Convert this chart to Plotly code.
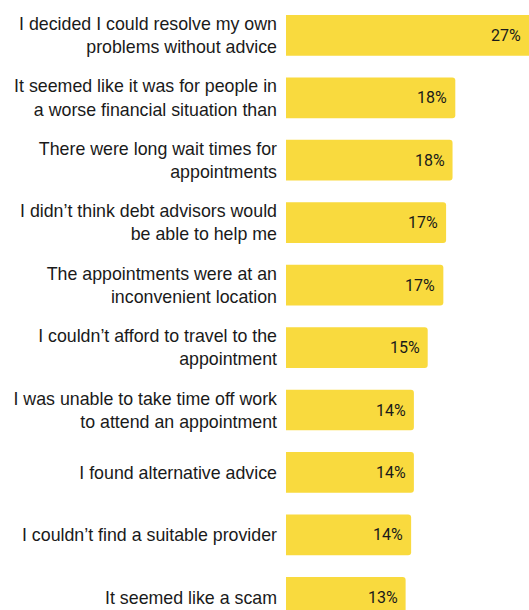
import plotly.graph_objects as go

# Reasons given for not seeking debt advice (share of respondents, %)
reasons = [
    "I decided I could resolve my own<br>problems without advice",
    "It seemed like it was for people in<br>a worse financial situation than",
    "There were long wait times for<br>appointments",
    "I didn’t think debt advisors would<br>be able to help me",
    "The appointments were at an<br>inconvenient location",
    "I couldn’t afford to travel to the<br>appointment",
    "I was unable to take time off work<br>to attend an appointment",
    "I found alternative advice",
    "I couldn’t find a suitable provider",
    "It seemed like a scam",
]
shares = [26.8, 18.4, 18.1, 17.4, 17.1, 15.4, 13.9, 13.9, 13.6, 13.0]

BAR_COLOR = "#F9DA3E"
X_MAX = 26.41

fig = go.Figure(
    go.Bar(
        x=shares,
        y=reasons,
        orientation="h",
        marker=dict(color=BAR_COLOR, line=dict(width=0), cornerradius=3),
        hoverinfo="skip",
    )
)

# value labels sit just inside the end of each bar
for v, r in zip(shares, reasons):
    fig.add_annotation(
        x=min(v, X_MAX),
        y=r,
        text=f"{v:.0f}%",
        xanchor="right",
        yanchor="middle",
        xshift=-6,
        showarrow=False,
        font=dict(family="Roboto", size=16, color="#1a1a1a"),
    )

fig.update_layout(
    width=529,
    height=610,
    margin=dict(l=286, r=0, t=0, b=0),
    paper_bgcolor="white",
    plot_bgcolor="white",
    bargap=0.348,
    showlegend=False,
    xaxis=dict(
        range=[0, X_MAX],
        visible=False,
        fixedrange=True,
    ),
    yaxis=dict(
        type="category",
        range=[9.203, -0.566],
        showgrid=False,
        zeroline=False,
        showline=False,
        ticks="",
        ticklabelstandoff=8,
        tickfont=dict(family="Liberation Sans, Arial, sans-serif", size=17.8, color="#1a1a1a"),
        fixedrange=True,
    ),
)

fig.write_html("out.html", config={"displayModeBar": False})
